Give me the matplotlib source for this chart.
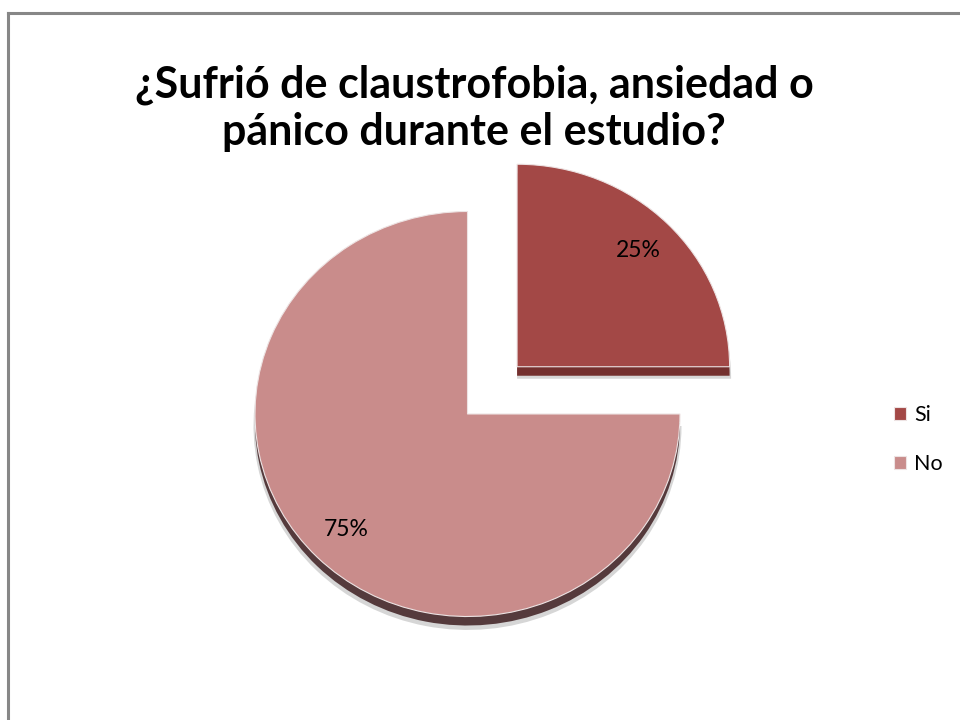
import matplotlib
matplotlib.use("Agg")
import matplotlib.pyplot as plt
from matplotlib.lines import Line2D

labels = ["Si", "No"]
values = [25, 75]
top_colors = ["#A34846", "#C98C8B"]
side_colors = ["#74302E", "#553A3C"]

plt.rcParams['font.family'] = ['Lato', 'DejaVu Sans']

W, H = 960, 720
fig = plt.figure(figsize=(9.6, 7.2), dpi=100)
fig.patch.set_facecolor("white")

yscale = 0.953
ax = fig.add_axes([0, 0, 1, 1])

cx, cy = 467.5, (H - 414) / yscale
R = 212.5
explode = [0.33 * R, 0.0]

# soft shadow
ax.pie(values, colors=["#D6D6D6", "#D6D6D6"], startangle=90, counterclock=False, explode=explode,
       radius=R + 1.5, center=(cx, cy - 12 / yscale), frame=True,
       wedgeprops=dict(edgecolor="none"))
# 3D side (depth)
depth = 9 / yscale
ax.pie(values, colors=side_colors, startangle=90, counterclock=False, explode=explode,
       radius=R, center=(cx, cy - depth), frame=True,
       wedgeprops=dict(edgecolor="none"))
# top surface
wedges, _, autotexts = ax.pie(values, colors=top_colors, startangle=90, counterclock=False,
                              explode=explode, radius=R, center=(cx, cy), frame=True,
                              labels=None, autopct=lambda p: f"{p:.0f}%", pctdistance=0.81,
                              textprops=dict(fontsize=16.5, color="black"),
                              wedgeprops=dict(edgecolor="#EDE3E3", linewidth=0.8))
ax.set_xlim(0, W)
ax.set_ylim(0, H / yscale)
ax.set_aspect('auto')
ax.axis('off')

# border (extends beyond right and bottom edges)
bx, by = 7.5 / W, 1 - 12.5 / H
fig.add_artist(Line2D([bx, bx], [-0.1, by], transform=fig.transFigure,
                      color="#878787", linewidth=2.2, zorder=10))
fig.add_artist(Line2D([bx, 1.1], [by, by], transform=fig.transFigure,
                      color="#878787", linewidth=2.2, zorder=10))

fig.text(0.494, 1 - 145 / H, "¿Sufrió de claustrofobia, ansiedad o\npánico durante el estudio?",
         ha="center", va="baseline", fontsize=31, fontweight="bold", linespacing=1.22)

leg = fig.legend(wedges, labels, loc="center left", bbox_to_anchor=(0.911, 0.39),
                 frameon=False, fontsize=15.5, handlelength=0.55, handleheight=0.55,
                 handletextpad=0.4, labelspacing=1.35)

fig.savefig("out.png", dpi=100, facecolor="white")
